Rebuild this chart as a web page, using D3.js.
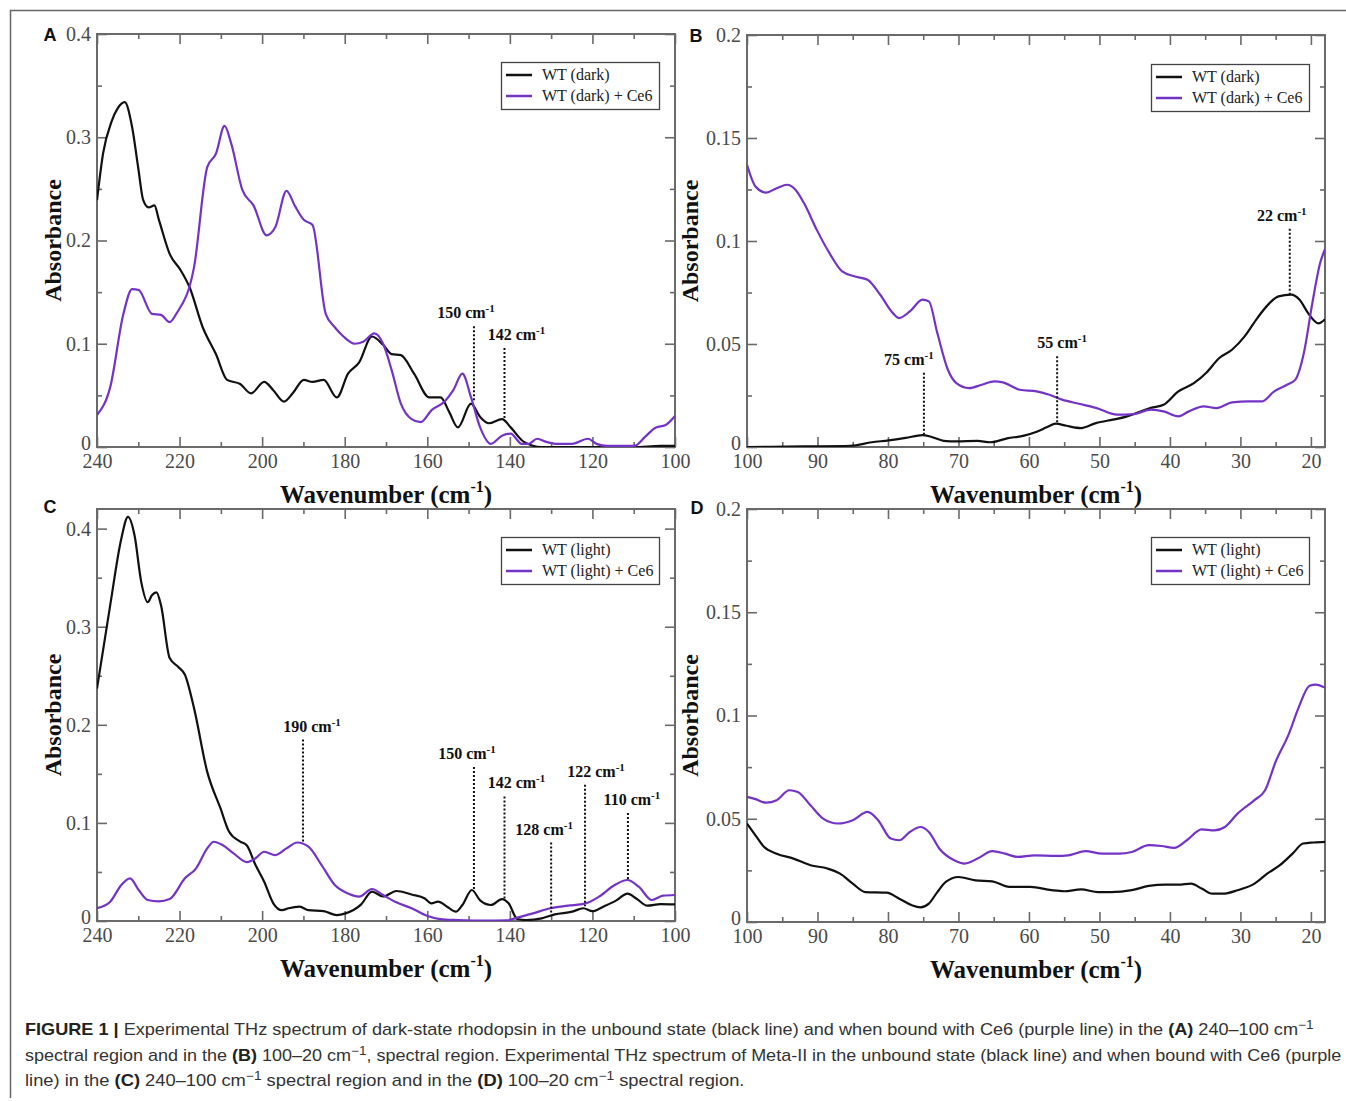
<!DOCTYPE html>
<html><head><meta charset="utf-8">
<script src="https://cdn.jsdelivr.net/npm/d3@7"></script>
<style>body{margin:0;background:#fff}svg{display:block}</style>
</head><body>
<svg id="c" width="1346" height="1101"></svg>
<script>
// ---------- DATA ----------
const seriesLabelsDark = ["WT (dark)", "WT (dark) + Ce6"];
const seriesLabelsLight = ["WT (light)", "WT (light) + Ce6"];

const ticksX_A = [240, 220, 200, 180, 160, 140, 120, 100];
const ticksY_A = [0, 0.1, 0.2, 0.3, 0.4];
const tickLabelsY_A = ["0", "0.1", "0.2", "0.3", "0.4"];
const ticksX_B = [100, 90, 80, 70, 60, 50, 40, 30, 20];
const ticksY_B = [0, 0.05, 0.1, 0.15, 0.2];
const tickLabelsY_B = ["0", "0.05", "0.1", "0.15", "0.2"];

// Panel A : dark state, 240-100 cm-1
const aDark = [[240,0.239],[238.5,0.285],[236.5,0.315],[235,0.328],[233.3,0.334],[231.5,0.31],[230,0.27],[228.8,0.239],[227.5,0.232],[226.1,0.234],[225,0.22],[222.4,0.187],[219.7,0.171],[217.6,0.155],[214.4,0.116],[211.2,0.09],[208.5,0.065],[205.3,0.061],[202.7,0.052],[199.5,0.063],[197.3,0.055],[194.7,0.044],[192.6,0.052],[189.9,0.065],[187.8,0.063],[185.1,0.065],[181.9,0.048],[179.2,0.071],[176.5,0.082],[173.4,0.107],[170.7,0.099],[168.6,0.09],[166.4,0.089],[163.2,0.071],[159.5,0.048],[156.8,0.048],[154.7,0.034],[152.6,0.019],[149.4,0.042],[147.2,0.029],[145.1,0.023],[141.9,0.027],[139.8,0.019],[136.6,0.005],[132.3,0.0],[120,0.0],[110,0.0],[103.5,0.001],[100,0.001]];
const aDarkCe6 = [[240,0.031],[236.8,0.058],[233.6,0.129],[231.5,0.153],[229.9,0.152],[226.7,0.129],[224.5,0.128],[222.4,0.121],[220.8,0.129],[216.5,0.174],[213.3,0.271],[211.2,0.284],[209.1,0.311],[207.5,0.294],[204.8,0.249],[202.1,0.234],[198.9,0.205],[196.8,0.213],[194.1,0.248],[192,0.233],[189.9,0.22],[187.8,0.215],[184.6,0.129],[182.4,0.116],[180.3,0.107],[177.6,0.1],[175.5,0.102],[172.8,0.11],[170.7,0.1],[168.6,0.074],[166.4,0.042],[163.8,0.027],[161.6,0.024],[158.9,0.036],[155.8,0.044],[153.7,0.055],[151.5,0.071],[149.4,0.048],[147.2,0.019],[144.6,0.003],[141.9,0.011],[139.8,0.013],[137.1,0.003],[135.5,0.003],[133.4,0.008],[131.2,0.005],[128.6,0.003],[124.9,0.003],[121.1,0.008],[119,0.003],[116.3,0.001],[109.9,0.001],[107.2,0.01],[104.6,0.019],[102.4,0.021],[100,0.03]];
const aPeaks = [{label:"150", x:148.7, y0:0.045, y1:0.117},{label:"142", x:141.3, y0:0.026, y1:0.096}];

// Panel B : dark state, 100-18 cm-1
const bDark = [[100,0],[92,0.0003],[85.3,0.0006],[82.3,0.0023],[79.9,0.0032],[77.5,0.0044],[75.1,0.0058],[73.9,0.005],[72.1,0.003],[70.3,0.0027],[67.3,0.003],[65.5,0.0023],[63.1,0.0042],[60.7,0.0055],[58.9,0.0074],[57.4,0.0097],[56.2,0.0113],[54.7,0.0103],[52.6,0.0092],[50.5,0.0116],[48.1,0.0133],[46.3,0.0146],[44.5,0.0168],[42.7,0.019],[40.9,0.0205],[38.8,0.027],[36.6,0.031],[34.8,0.0362],[33,0.0432],[31.2,0.0472],[29.4,0.0537],[27.6,0.0626],[26.1,0.069],[24.6,0.0731],[22.8,0.074],[21.6,0.0715],[20.4,0.065],[18.9,0.06],[18,0.062]];
const bDarkCe6 = [[100,0.137],[98.8,0.1265],[97.3,0.1235],[95.8,0.1256],[94.3,0.1273],[93.1,0.1248],[91.9,0.1183],[90.1,0.1054],[88.3,0.0941],[86.5,0.0852],[84.7,0.0828],[82.9,0.0812],[81.1,0.0739],[79.3,0.065],[78.4,0.0626],[76.9,0.0658],[75.1,0.0715],[74.2,0.0707],[73,0.0553],[71.5,0.0375],[70.3,0.031],[68.5,0.0286],[66.7,0.0302],[64.9,0.0319],[63.7,0.0314],[61.3,0.0278],[58.9,0.027],[57.1,0.0254],[55.3,0.023],[52.9,0.021],[50.5,0.019],[47.5,0.0157],[45.1,0.016],[42.7,0.0181],[40.9,0.0173],[38.8,0.0149],[37.3,0.0173],[35.2,0.0197],[33.4,0.0189],[31.2,0.0217],[28.8,0.0221],[27,0.0221],[25.2,0.027],[23.4,0.0302],[22.2,0.0327],[21,0.0456],[19.8,0.0698],[18.7,0.0892],[18,0.096]];
const bPeaks = [{label:"75", x:74.9, y0:0.006, y1:0.036},{label:"55", x:56.0, y0:0.012, y1:0.044},{label:"22", x:23.0, y0:0.074, y1:0.106}];

// Panel C : light state (Meta-II), 240-100 cm-1
const cLight = [[240,0.237],[236.8,0.322],[234.1,0.39],[232.5,0.412],[230.9,0.393],[229.3,0.346],[227.7,0.325],[226.7,0.332],[225.6,0.335],[224.5,0.322],[222.4,0.268],[220.3,0.259],[218.7,0.251],[216.5,0.217],[213.3,0.152],[210.1,0.115],[208,0.091],[205.3,0.081],[203.7,0.077],[201.6,0.057],[199.5,0.04],[197.3,0.018],[195.2,0.011],[193.6,0.013],[190.9,0.0146],[188.8,0.011],[185.1,0.01],[181.9,0.006],[179.8,0.0078],[176,0.017],[173.4,0.03],[170.7,0.025],[167.5,0.0306],[163.8,0.027],[160.6,0.023],[159,0.018],[157.4,0.0197],[155.2,0.0146],[153.1,0.0095],[151.5,0.0163],[149.2,0.0316],[147.2,0.021],[144.6,0.0163],[141.9,0.0224],[140.3,0.018],[138.2,0.002],[136.1,0.001],[132.3,0.0027],[129.1,0.0068],[124.9,0.0095],[122.2,0.013],[120,0.01],[117.4,0.0146],[114.2,0.021],[111.5,0.028],[109.4,0.023],[106.7,0.0156],[103.5,0.0173],[100,0.017]];
const cLightCe6 = [[240,0.013],[236.8,0.0197],[234.1,0.0367],[232,0.0435],[229.9,0.0316],[227.7,0.0214],[225.1,0.02],[222.4,0.0224],[218.7,0.0435],[216,0.0537],[213.3,0.074],[211.7,0.0808],[209.6,0.0774],[206.9,0.069],[203.7,0.06],[201.6,0.064],[199.5,0.0706],[196.8,0.0672],[194.1,0.074],[191.5,0.08],[188.8,0.0757],[185.6,0.057],[182.4,0.0367],[179.2,0.028],[176.5,0.0248],[173.4,0.0326],[170.7,0.0265],[167.5,0.019],[163.8,0.013],[160.1,0.0054],[156.9,0.002],[152.6,0.001],[146.2,0.0003],[140.8,0.0007],[138.2,0.0034],[134.4,0.0078],[130.2,0.013],[125.9,0.0156],[121.6,0.018],[118.4,0.0248],[114.6,0.0367],[111.5,0.0418],[108.8,0.035],[105.6,0.0214],[102.9,0.0258],[100,0.0265]];
const cPeaks = [{label:"190", x:190.1, y0:0.08, y1:0.185},{label:"150", x:148.7, y0:0.031, y1:0.157},{label:"142", x:141.3, y0:0.023, y1:0.127},{label:"128", x:130.0, y0:0.008, y1:0.08},{label:"122", x:121.8, y0:0.015, y1:0.139},{label:"110", x:111.4, y0:0.042, y1:0.11}];

// Panel D : light state (Meta-II), 100-18 cm-1
const dLight = [[100,0.0477],[98.8,0.042],[97.6,0.0364],[95.8,0.0331],[93.4,0.0307],[91,0.0275],[88.6,0.0259],[86.8,0.0234],[85,0.0186],[83.2,0.0145],[80.2,0.0142],[78.4,0.0113],[76.6,0.0081],[75.4,0.0071],[74.2,0.0089],[73,0.0145],[71.8,0.0194],[70,0.0218],[67.6,0.0202],[65.2,0.0197],[62.8,0.017],[59.8,0.017],[56.8,0.0154],[55,0.0149],[52.6,0.0158],[50.2,0.0145],[48.4,0.0145],[45.4,0.0154],[43,0.0175],[40.6,0.0181],[38.8,0.0181],[37,0.0186],[35.5,0.0162],[34,0.0137],[32.5,0.0137],[30.4,0.0154],[28,0.0186],[26.2,0.0234],[24.4,0.0275],[22.6,0.0331],[21.1,0.038],[19.6,0.0385],[18,0.0388]];
const dLightCe6 = [[100,0.0606],[98.8,0.0595],[97.3,0.0578],[95.8,0.059],[94,0.0638],[92.8,0.063],[91,0.0565],[89.2,0.0501],[87.1,0.0477],[85,0.0493],[82.9,0.0533],[81.4,0.0493],[79.6,0.0404],[78.4,0.0396],[76.9,0.0436],[75.4,0.046],[74.2,0.0436],[72.7,0.0355],[70.6,0.0299],[69.1,0.0283],[67.3,0.0307],[65.2,0.0343],[63.4,0.0331],[61.6,0.0315],[59.2,0.0323],[56.2,0.032],[54.4,0.0323],[52,0.0343],[49.6,0.0331],[47.2,0.0331],[45.4,0.0339],[43,0.0372],[41.2,0.0368],[39.4,0.0359],[37.6,0.0396],[35.5,0.0449],[33.7,0.0444],[32.2,0.046],[30.4,0.0525],[28,0.059],[26.5,0.0638],[25,0.0776],[23.2,0.0905],[21.7,0.1042],[20.2,0.1144],[19.3,0.115],[18,0.1135]];
const dPeaks = [];

// ---------- LAYOUT ----------
const BLACK = "#111", PURPLE = "#7433c7", AXIS = "#6a6a6a";
const svg = d3.select("#c");
svg.append("rect").attr("width",1346).attr("height",1101).attr("fill","#fff");
// outer figure frame
svg.append("path").attr("d","M10.5,1098 V10.5 H1346").attr("fill","none").attr("stroke","#666").attr("stroke-width",1.5);

const panels = [
  {letter:"A", lx:50, ly:35, left:97, top:34, w:578, h:413, xd:[240,100], yd:[0,0.4], xt:ticksX_A, xminor:10, yt:ticksY_A, ytl:tickLabelsY_A, yminor:0.05,
   series:[aDark,aDarkCe6], labels:seriesLabelsDark, lg:[501,62], peaks:aPeaks, pdx:[-8,12], titleOff:42},
  {letter:"B", lx:696, ly:36, left:747, top:35, w:578, h:412, xd:[100,18], yd:[0,0.2], xt:ticksX_B, xminor:5, yt:ticksY_B, ytl:tickLabelsY_B, yminor:0.025,
   series:[bDark,bDarkCe6], labels:seriesLabelsDark, lg:[1151,64], peaks:bPeaks, pdx:[-15,5,-8], titleOff:55},
  {letter:"C", lx:50, ly:507, left:97, top:509, w:578, h:412, xd:[240,100], yd:[0,0.42], xt:ticksX_A, xminor:10, yt:ticksY_A, ytl:tickLabelsY_A, yminor:0.05,
   series:[cLight,cLightCe6], labels:seriesLabelsLight, lg:[501,537], peaks:cPeaks, pdx:[9,-7,12,-7,11,4], titleOff:42},
  {letter:"D", lx:697, ly:508, left:747, top:509, w:578, h:413, xd:[100,18], yd:[0,0.2], xt:ticksX_B, xminor:5, yt:ticksY_B, ytl:tickLabelsY_B, yminor:0.025,
   series:[dLight,dLightCe6], labels:seriesLabelsLight, lg:[1151,537], peaks:dPeaks, pdx:[], titleOff:55}
];

function range(a, b, step){ const out=[]; const lo=Math.min(a,b), hi=Math.max(a,b); for(let v=Math.ceil(lo/step-1e-9)*step; v<=hi+1e-9; v+=step) out.push(+v.toFixed(4)); return out; }

function styleAxis(g){
  g.select(".domain").remove();
  g.selectAll(".tick line").attr("stroke",AXIS).attr("stroke-width",1.6);
  g.selectAll(".tick text").attr("fill","#4a4a4a").style("font-family","'Liberation Serif','Times New Roman',serif").style("font-size","20px");
}

panels.forEach(p => {
  const x = d3.scaleLinear().domain(p.xd).range([p.left, p.left+p.w]);
  const y = d3.scaleLinear().domain(p.yd).range([p.top+p.h, p.top]);
  const g = svg.append("g");
  const bottom = p.top+p.h, right = p.left+p.w;
  const xMinorVals = range(p.xd[0], p.xd[1], p.xminor).filter(v => !p.xt.includes(v));
  const yMinorVals = range(p.yd[0], p.yd[1], p.yminor).filter(v => !p.yt.some(t=>Math.abs(t-v)<1e-6));

  // minor ticks
  g.append("g").attr("transform",`translate(0,${bottom})`).call(d3.axisBottom(x).tickValues(xMinorVals).tickSize(-5).tickFormat("")).call(styleAxis);
  g.append("g").attr("transform",`translate(0,${p.top})`).call(d3.axisTop(x).tickValues(xMinorVals).tickSize(-5).tickFormat("")).call(styleAxis);
  g.append("g").attr("transform",`translate(${p.left},0)`).call(d3.axisLeft(y).tickValues(yMinorVals).tickSize(-5).tickFormat("")).call(styleAxis);
  g.append("g").attr("transform",`translate(${right},0)`).call(d3.axisRight(y).tickValues(yMinorVals).tickSize(-5).tickFormat("")).call(styleAxis);
  // major ticks
  g.append("g").attr("transform",`translate(0,${bottom})`).call(d3.axisBottom(x).tickValues(p.xt).tickSize(-10).tickPadding(7).tickFormat(d3.format("d"))).call(styleAxis);
  g.append("g").attr("transform",`translate(0,${p.top})`).call(d3.axisTop(x).tickValues(p.xt).tickSize(-10).tickFormat("")).call(styleAxis);
  const yAx = g.append("g").attr("transform",`translate(${p.left},0)`).call(d3.axisLeft(y).tickValues(p.yt).tickSize(-10).tickPadding(6).tickFormat((d,i)=>p.ytl[i])).call(styleAxis);
  // lift the "0" label slightly so it sits just above the first x label
  yAx.selectAll(".tick text").filter(d => d === 0).attr("y", -4);
  g.append("g").attr("transform",`translate(${right},0)`).call(d3.axisRight(y).tickValues(p.yt).tickSize(-10).tickFormat("")).call(styleAxis);

  // frame
  g.append("rect").attr("x",p.left).attr("y",p.top).attr("width",p.w).attr("height",p.h)
    .attr("fill","none").attr("stroke",AXIS).attr("stroke-width",2);

  // curves
  const line = d3.line().x(d=>x(d[0])).y(d=>y(d[1])).curve(d3.curveMonotoneX);
  const clipId = "clip"+p.letter;
  svg.append("clipPath").attr("id",clipId).append("rect").attr("x",p.left).attr("y",p.top-2).attr("width",p.w).attr("height",p.h+2);
  [BLACK, PURPLE].forEach((col,i) => {
    g.append("path").datum(p.series[i]).attr("d",line).attr("fill","none").attr("stroke",col)
      .attr("stroke-width",2.2).attr("stroke-linejoin","round").attr("clip-path",`url(#${clipId})`);
  });

  // peak annotations
  p.peaks.forEach((pk,i) => {
    g.append("line").attr("x1",x(pk.x)).attr("x2",x(pk.x)).attr("y1",y(pk.y1)).attr("y2",y(pk.y0))
      .attr("stroke","#111").attr("stroke-width",2).attr("stroke-dasharray","2,2");
    const t = g.append("text").attr("x",x(pk.x)+(p.pdx[i]||0)).attr("y",y(pk.y1)-8).attr("text-anchor","middle")
      .style("font-family","'Liberation Serif','Times New Roman',serif").style("font-size","16px").style("font-weight","bold").attr("fill","#111");
    t.append("tspan").text(pk.label+" cm");
    t.append("tspan").attr("dy",-6).style("font-size","11px").text("-1");
  });

  // legend
  const [lx0, ly0] = p.lg;
  const lg = g.append("g");
  lg.append("rect").attr("x",lx0+0.5).attr("y",ly0+0.5).attr("width",158).attr("height",47).attr("fill","#fff").attr("stroke","#444").attr("stroke-width",1.3);
  [BLACK, PURPLE].forEach((col,i) => {
    const yy = ly0 + 13 + i*21;
    lg.append("line").attr("x1",lx0+5).attr("x2",lx0+31).attr("y1",yy).attr("y2",yy).attr("stroke",col).attr("stroke-width",2.5);
    lg.append("text").attr("x",lx0+41).attr("y",yy+5).text(p.labels[i])
      .style("font-family","'Liberation Serif','Times New Roman',serif").style("font-size","16px").attr("fill","#222");
  });

  // axis titles
  g.append("text").attr("transform",`translate(${p.left-p.titleOff},${p.top+p.h/2}) rotate(-90)`)
    .attr("text-anchor","middle").attr("dominant-baseline","middle")
    .style("font-family","'Liberation Serif','Times New Roman',serif").style("font-size","24px").style("font-weight","bold").attr("fill","#111").text("Absorbance");
  const xt = g.append("text").attr("x",p.left+p.w/2).attr("y",bottom+56).attr("text-anchor","middle")
    .style("font-family","'Liberation Serif','Times New Roman',serif").style("font-size","25px").style("font-weight","bold").attr("fill","#111");
  xt.append("tspan").text("Wavenumber (cm");
  xt.append("tspan").attr("dy",-11).style("font-size","16px").text("-1");
  xt.append("tspan").attr("dy",11).text(")");

  // panel letter
  g.append("text").attr("x",p.lx).attr("y",p.ly+6).attr("text-anchor","middle")
    .style("font-family","'Liberation Sans',Arial,sans-serif").style("font-size","18px").style("font-weight","bold").attr("fill","#111").text(p.letter);
});

// ---------- CAPTION ----------
const captionLines = [
  [["FIGURE 1 | ",true],["Experimental THz spectrum of dark-state rhodopsin in the unbound state (black line) and when bound with Ce6 (purple line) in the ",false],["(A)",true],[" 240–100 cm",false],["−1",false,"sup"]],
  [["spectral region and in the ",false],["(B)",true],[" 100–20 cm",false],["−1",false,"sup"],[", spectral region. Experimental THz spectrum of Meta-II in the unbound state (black line) and when bound with Ce6 (purple",false]],
  [["line) in the ",false],["(C)",true],[" 240–100 cm",false],["−1",false,"sup"],[" spectral region and in the ",false],["(D)",true],[" 100–20 cm",false],["−1",false,"sup"],[" spectral region.",false]]
];
const captionTargets = [1290, 1318, 720];
const captionY = [1035, 1061, 1086];
captionLines.forEach((parts, li) => {
  const t = svg.append("text").attr("transform",`translate(25,${captionY[li]})`)
    .style("font-family","'Liberation Sans',Arial,sans-serif").style("font-size","16px").attr("fill","#333");
  let sup = false;
  parts.forEach(pt => {
    const s = t.append("tspan").text(pt[0]);
    if (pt[1]) s.style("font-weight","bold").attr("fill","#222");
    if (pt[2]==="sup") { s.attr("dy",-6).style("font-size","12px"); sup = true; }
    else if (sup) { s.attr("dy",6); sup = false; }
  });
  const natural = t.node().getComputedTextLength();
  const k = captionTargets[li] / natural;
  t.attr("transform",`translate(25,${captionY[li]}) scale(${k},1)`);
});
</script>
</body></html>
